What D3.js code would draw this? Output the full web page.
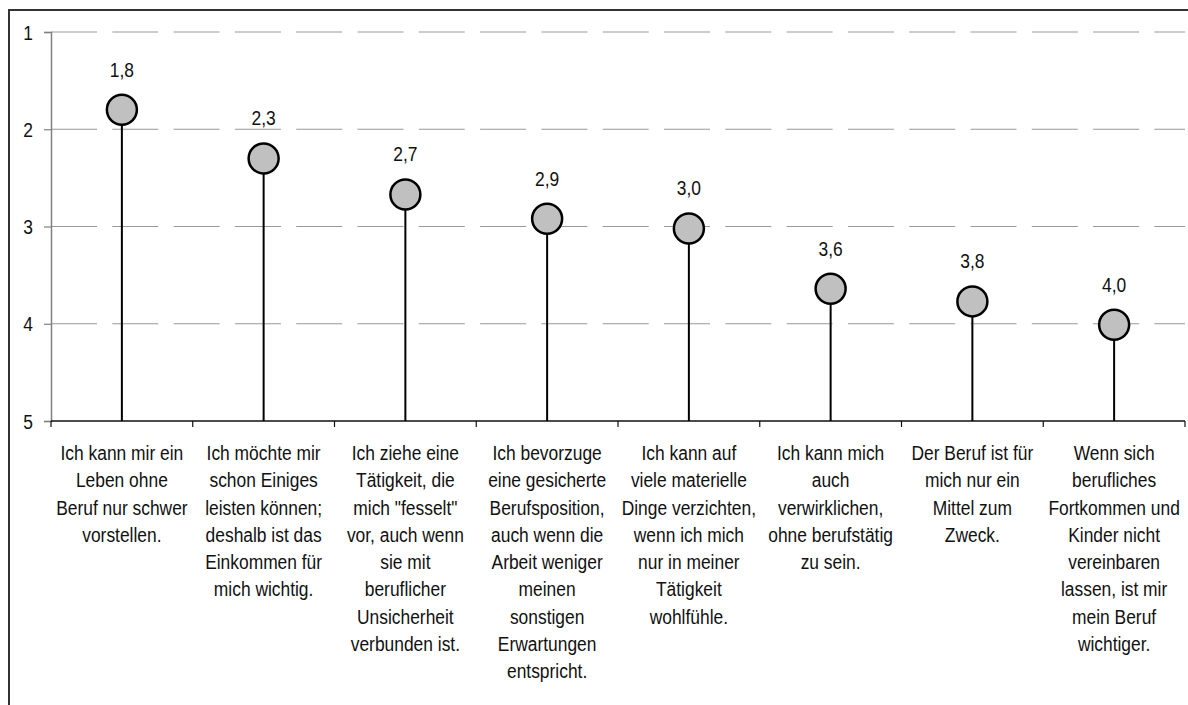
<!DOCTYPE html>
<html>
<head>
<meta charset="utf-8">
<script src="https://cdn.jsdelivr.net/npm/d3@7"></script>
<style>
  html, body { margin: 0; padding: 0; background: #fff; }
  svg { display: block; }
  text { font-family: "Liberation Sans", Arial, sans-serif; fill: #111; }
</style>
</head>
<body>
<svg id="chart" width="1188" height="705"></svg>
<script>
const categories = [
  ["Ich kann mir ein", "Leben ohne", "Beruf nur schwer", "vorstellen."],
  ["Ich möchte mir", "schon Einiges", "leisten können;", "deshalb ist das", "Einkommen für", "mich wichtig."],
  ["Ich ziehe eine", "Tätigkeit, die", "mich \"fesselt\"", "vor, auch wenn", "sie mit", "beruflicher", "Unsicherheit", "verbunden ist."],
  ["Ich bevorzuge", "eine gesicherte", "Berufsposition,", "auch wenn die", "Arbeit weniger", "meinen", "sonstigen", "Erwartungen", "entspricht."],
  ["Ich kann auf", "viele materielle", "Dinge verzichten,", "wenn ich mich", "nur in meiner", "Tätigkeit", "wohlfühle."],
  ["Ich kann mich", "auch", "verwirklichen,", "ohne berufstätig", "zu sein."],
  ["Der Beruf ist für", "mich nur ein", "Mittel zum", "Zweck."],
  ["Wenn sich", "berufliches", "Fortkommen und", "Kinder nicht", "vereinbaren", "lassen, ist mir", "mein Beruf", "wichtiger."]
];
const values = [1.80, 2.30, 2.67, 2.92, 3.02, 3.64, 3.77, 4.01];
const yTicks = [1, 2, 3, 4, 5];

const svg = d3.select("#chart");
const mLeft = 51, mRight = 1185, mTop = 32, mBottom = 421;
const narrow = 0.87;   // horizontal condensation to mimic a narrow face
const condense = (sel, ax) => sel.attr("transform", function() {
  const px = ax !== undefined ? ax : +this.getAttribute("x");
  return `translate(${px},0) scale(${narrow},1) translate(${-px},0)`;
});

// outer frame
svg.append("rect").attr("x", 9).attr("y", 10).attr("width", 1300).attr("height", 900)
  .attr("fill", "none").attr("stroke", "#333").attr("stroke-width", 2);

const x = d3.scaleBand().domain(d3.range(categories.length)).range([mLeft, mRight]);
const y = d3.scaleLinear().domain([1, 5]).range([mTop, mBottom]);

// gridlines
svg.append("g").selectAll("line").data(yTicks.filter(t => t < 5)).join("line")
  .attr("x1", mLeft).attr("x2", mRight)
  .attr("y1", d => y(d)).attr("y2", d => y(d))
  .attr("stroke", "#999").attr("stroke-width", 1.2)
  .attr("stroke-dasharray", "46,15.3");

// y axis
const yAxis = d3.axisLeft(y).tickValues(yTicks).tickSize(7).tickPadding(11).tickFormat(d3.format("d"));
const gy = svg.append("g").attr("transform", `translate(${mLeft},0)`).call(yAxis);
gy.attr("font-family", null).attr("font-size", null);
gy.select(".domain").attr("stroke", "#808080").attr("stroke-width", 1.5);
gy.selectAll(".tick line").attr("stroke", "#808080").attr("stroke-width", 1.2);
gy.selectAll(".tick text").attr("font-size", 20).attr("fill", "#111").attr("dy", "0.36em");
condense(gy.selectAll(".tick text"), -18);

// x axis baseline with boundary ticks
const bounds = d3.range(categories.length + 1).map(i => i === categories.length ? mRight : x(i));
svg.append("line").attr("x1", mLeft).attr("x2", mRight).attr("y1", y(5)).attr("y2", y(5))
  .attr("stroke", "#111").attr("stroke-width", 1.5);
svg.append("g").selectAll("line").data(bounds).join("line")
  .attr("x1", d => d).attr("x2", d => d)
  .attr("y1", y(5)).attr("y2", y(5) + 6)
  .attr("stroke", "#111").attr("stroke-width", 1.2);

// stems
svg.append("g").selectAll("line").data(values).join("line")
  .attr("x1", (d, i) => x(i) + x.bandwidth() / 2)
  .attr("x2", (d, i) => x(i) + x.bandwidth() / 2)
  .attr("y1", y(5)).attr("y2", d => y(d))
  .attr("stroke", "#000").attr("stroke-width", 2);

// circles
svg.append("g").selectAll("circle").data(values).join("circle")
  .attr("cx", (d, i) => x(i) + x.bandwidth() / 2)
  .attr("cy", d => y(d))
  .attr("r", 15)
  .attr("fill", "#c0c0c0").attr("stroke", "#000").attr("stroke-width", 2.5);

// value labels
const fmt = v => d3.format(".1f")(v).replace(".", ",");
const vl = svg.append("g").selectAll("text").data(values).join("text")
  .attr("x", (d, i) => x(i) + x.bandwidth() / 2)
  .attr("y", d => y(d) - 33)
  .attr("text-anchor", "middle").attr("font-size", 20)
  .text(fmt);
condense(vl);

// category labels
const cl = svg.append("g").selectAll("text").data(categories).join("text")
  .attr("x", (d, i) => x(i) + x.bandwidth() / 2)
  .attr("y", 460)
  .attr("text-anchor", "middle").attr("font-size", 20);
cl.selectAll("tspan").data(d => d).join("tspan")
  .attr("x", function() { return this.parentNode.getAttribute("x"); })
  .attr("dy", (d, j) => j === 0 ? 0 : 27.3)
  .text(d => d);
condense(cl);
</script>
</body>
</html>
